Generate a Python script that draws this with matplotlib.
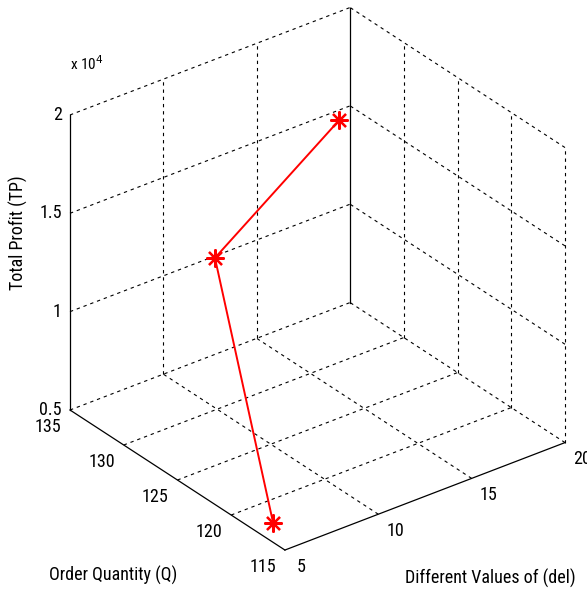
import numpy as np
import matplotlib
matplotlib.use('Agg')
import matplotlib.pyplot as plt
from mpl_toolkits.mplot3d import proj3d

# values
delta = [5, 10, 15]
order_qty = [116.1, 130.2, 127.3]
total_profit = [6000, 12620, 18850]

del_ticks = [5, 10, 15, 20]
q_ticks = [115, 120, 125, 130, 135]
tp_ticks = [5000, 10000, 15000, 20000]
tp_labels = ['0.5', '1', '1.5', '2']

plt.rcParams['font.family'] = ['Roboto Condensed', 'Liberation Sans', 'DejaVu Sans']

fig = plt.figure(figsize=(5.87, 5.94), dpi=100)
ax = fig.add_axes([0, 0, 1, 1], projection='3d', proj_type='ortho',
                  computed_zorder=False)
ax.view_init(elev=30, azim=-127.5)
ax.set_box_aspect((1, 1, 0.965))
ax.set_xlim(5, 20)
ax.set_ylim(115, 135)
ax.set_zlim(5000, 20000)
ax.set_axis_off()

x0, x1 = del_ticks[0], del_ticks[-1]
y0, y1 = q_ticks[0], q_ticks[-1]
z0, z1 = tp_ticks[0], tp_ticks[-1]

grid_kw = dict(color='black', lw=0.8, ls=(0, (3, 3.5)))
axis_kw = dict(color='black', lw=0.9)

# floor grid
for d in del_ticks[1:]:
    ax.plot([d, d], [y0, y1], [z0, z0], **grid_kw)
for q in q_ticks[1:]:
    ax.plot([x0, x1], [q, q], [z0, z0], **grid_kw)
# back wall (Q = 135)
for d in del_ticks[1:-1]:
    ax.plot([d, d], [y1, y1], [z0, z1], **grid_kw)
for t in tp_ticks[1:]:
    ax.plot([x0, x1], [y1, y1], [t, t], **grid_kw)
# right wall (del = 20)
for q in q_ticks[:-1]:
    ax.plot([x1, x1], [q, q], [z0, z1], **grid_kw)
for t in tp_ticks[1:]:
    ax.plot([x1, x1], [y0, y1], [t, t], **grid_kw)

# solid axis lines
ax.plot([x0, x0], [y1, y1], [z0, z1], **axis_kw)
ax.plot([x0, x0], [y0, y1], [z0, z0], **axis_kw)
ax.plot([x0, x1], [y0, y0], [z0, z0], **axis_kw)
ax.plot([x1, x1], [y1, y1], [z0, z1], **axis_kw)

# data
ax.plot(delta, order_qty, total_profit, color='red', lw=1.4,
        marker=(8, 2, 0), markersize=13, markeredgewidth=1.6)


def proj_xy(x, y, z):
    xs, ys, _ = proj3d.proj_transform(x, y, z, ax.get_proj())
    return (xs, ys)


fs = 13
for t, lab in zip(tp_ticks, tp_labels):
    ax.annotate(lab, proj_xy(x0, y1, t), xytext=(-6, 0), textcoords='offset points',
                ha='right', va='center', fontsize=fs)
for q in q_ticks:
    ax.annotate(str(q), proj_xy(x0, q, z0), xytext=(-16, -12), textcoords='offset points',
                ha='center', va='center', fontsize=fs)
for d in del_ticks:
    ax.annotate(str(d), proj_xy(d, y0, z0), xytext=(12, -12), textcoords='offset points',
                ha='center', va='center', fontsize=fs, annotation_clip=False)
ax.annotate('x 10$^4$', proj_xy(x0, y1, z1), xytext=(0, 37), textcoords='offset points',
            ha='left', va='center', fontsize=11)

fig.text(18 / 587, 1 - 233 / 594, 'Total Profit (TP)', rotation=90,
         ha='center', va='center', fontsize=fs)
fig.text(113 / 587, 1 - 575 / 594, 'Order Quantity (Q)', ha='center', va='center', fontsize=fs)
fig.text(490 / 587, 1 - 578 / 594, 'Different Values of (del)', ha='center', va='center', fontsize=fs)

# fit the box to the reference corners (left corner at 70,410 and right at 565,441)
fig.canvas.draw()
W, H = fig.bbox.width, fig.bbox.height
for _ in range(2):
    tr = ax.transData
    pl = tr.transform(proj_xy(x0, y1, z0))
    pr = tr.transform(proj_xy(x1, y0, z0))
    s = (565 - 70) / (pr[0] - pl[0])
    bb = ax.get_position(original=True)
    cx, cy = (bb.x0 + bb.width / 2) * W, (bb.y0 + bb.height / 2) * H
    nx, ny = cx + (pl[0] - cx) * s, cy + (pl[1] - cy) * s
    ncx, ncy = cx + 70 - nx, cy + (H - 410) - ny
    nw, nh = bb.width * s, bb.height * s
    ax.set_position([ncx / W - nw / 2, ncy / H - nh / 2, nw, nh])
    fig.canvas.draw()

plt.savefig('out.png', dpi=100)
